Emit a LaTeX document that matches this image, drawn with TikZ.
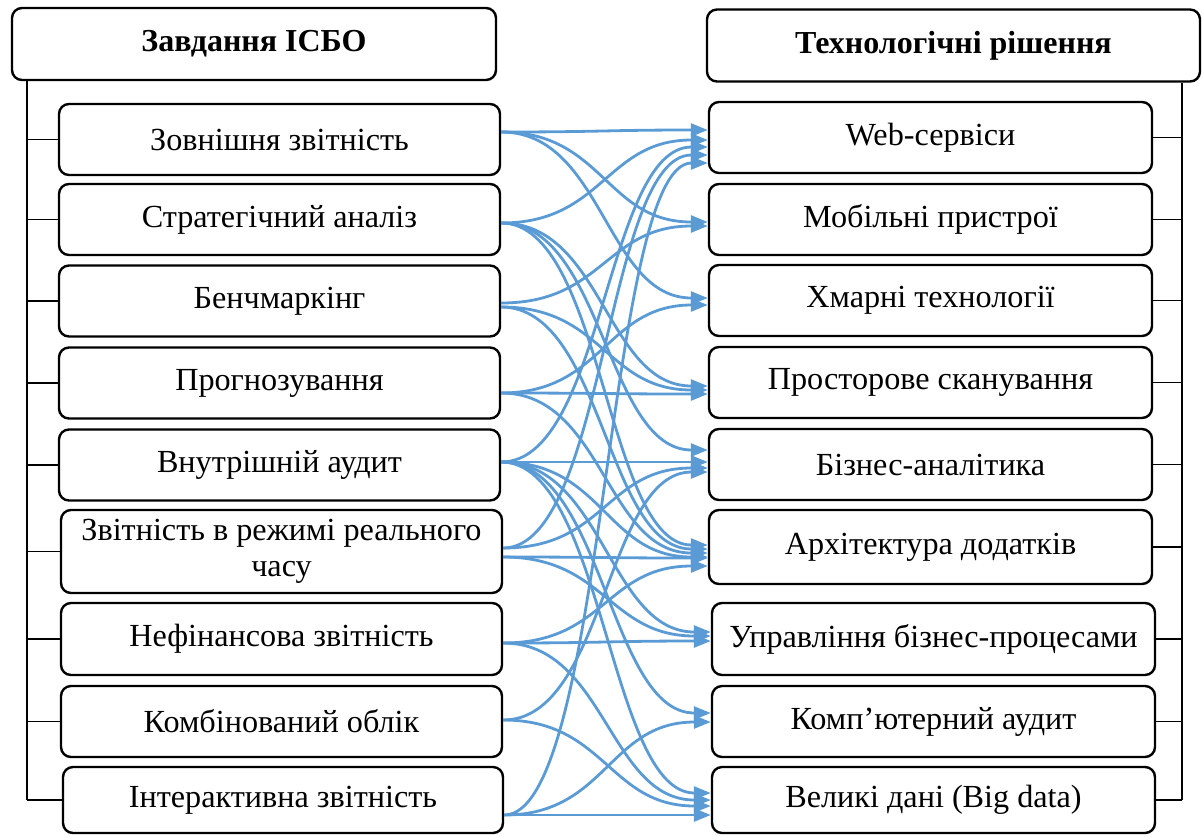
\documentclass[tikz,border=0pt]{standalone}
\usepackage{fontspec}
\setmainfont{Liberation Serif}
\usetikzlibrary{arrows.meta,calc}
\definecolor{arrblue}{HTML}{5B9BD5}
\newcommand\cn[4]{\draw[arr] (#1.east |- 0,#2) .. controls +(102,0) and +(-102,0) .. (#3.west |- 0,#4);}
\begin{document}
\begin{tikzpicture}[x=0.5pt,y=-0.5pt,
  box/.style={draw, line width=1.2pt, rounded corners=5pt, inner sep=0pt, align=center,
    font=\fontsize{16.1}{18}\selectfont, minimum width=220.5pt, minimum height=35.5pt},
  head/.style={box, font=\bfseries\fontsize{16}{18}\selectfont, minimum height=36pt},
  tree/.style={line width=0.6pt},
  arr/.style={draw=arrblue, line width=1.4pt, -{Triangle[length=8.5pt,width=6.5pt]}}]
\useasboundingbox (0,0) rectangle (1202,836);
% headers
\node[head, minimum width=242pt] (H1) at (254,44) {Завдання ІСБО};
\node[head, minimum width=246.5pt] (H2) at (953.5,45.5) {Технологічні рішення};
% left boxes
\node[box] (L1) at (279.5,139.5) {Зовнішня звітність};
\node[box] (L2) at (279.5,219.5) {Стратегічний аналіз};
\node[box] (L3) at (279.5,301) {Бенчмаркінг};
\node[box] (L4) at (279.5,383) {Прогнозування};
\node[box] (L5) at (279.5,465) {Внутрішній аудит};
\node[box, minimum height=41.5pt] (L6) at (281.5,551.5) {Звітність в режимі реального\\часу};
\node[box, minimum height=36pt] (L7) at (281.5,639) {Нефінансова звітність};
\node[box] (L8) at (281.5,721.5) {Комбінований облік};
\node[box, minimum height=33pt, minimum width=220pt] (L9) at (283,800) {Інтерактивна звітність};
% right boxes
\node[box, minimum width=221.5pt] (R1) at (930.5,137.5) {Web-сервіси};
\node[box, minimum width=221.5pt] (R2) at (930.5,219.5) {Мобільні пристрої};
\node[box, minimum width=221.5pt] (R3) at (930.5,300.5) {Хмарні технології};
\node[box, minimum width=221.5pt] (R4) at (930.5,382.5) {Просторове сканування};
\node[box, minimum width=221.5pt] (R5) at (930.5,464.5) {Бізнес-аналітика};
\node[box, minimum width=221.5pt, minimum height=37pt] (R6) at (930.5,547) {Архітектура додатків};
\node[box, minimum width=221.5pt, minimum height=36pt] (R7) at (933.5,639) {Управління бізнес-процесами};
\node[box, minimum width=221.5pt] (R8) at (933.5,721.5) {Комп’ютерний аудит};
\node[box, minimum width=221.5pt, minimum height=33pt] (R9) at (933.5,800) {Великі дані (Big data)};
% left tree
\draw[tree] (H1.south -| 27,0) -- (L9.west -| 27,0);
\foreach \n in {L1,L2,L3,L4,L5,L6,L7,L8,L9} \draw[tree] (\n.west -| 27,0) -- (\n.west);
% right tree
\draw[tree] (H2.south -| 1182,0) -- (R9.east -| 1182,0);
\foreach \n in {R1,R2,R3,R4,R5,R6,R7,R8,R9} \draw[tree] (\n.east) -- (\n.east -| 1182,0);
% connectors
\cn{L1}{132}{R1}{130}
\cn{L1}{132}{R2}{222}
\cn{L1}{132}{R3}{298}
\cn{L2}{223}{R1}{140}
\cn{L2}{223}{R4}{386}
\cn{L2}{223}{R5}{450}
\cn{L2}{223}{R6}{545}
\cn{L3}{303}{R2}{226}
\cn{L3}{307}{R4}{390}
\cn{L3}{307}{R6}{549}
\cn{L4}{393}{R3}{305}
\cn{L4}{393}{R4}{394}
\cn{L4}{393}{R6}{553}
\cn{L5}{462}{R1}{147}
\cn{L5}{462}{R5}{462}
\cn{L5}{462}{R6}{557}
\cn{L5}{462}{R7}{632}
\cn{L5}{462}{R8}{713}
\cn{L5}{462}{R9}{793}
\cn{L6}{548}{R1}{155}
\cn{L6}{548}{R5}{468}
\cn{L6}{557}{R6}{558}
\cn{L6}{557}{R7}{636}
\cn{L7}{643}{R6}{566}
\cn{L7}{643}{R7}{641}
\cn{L7}{643}{R9}{800}
\cn{L8}{720}{R5}{472}
\cn{L8}{720}{R9}{806}
\cn{L9}{815}{R8}{722}
\cn{L9}{815}{R1}{163}
\cn{L9}{815}{R9}{815}
\end{tikzpicture}
\end{document}
